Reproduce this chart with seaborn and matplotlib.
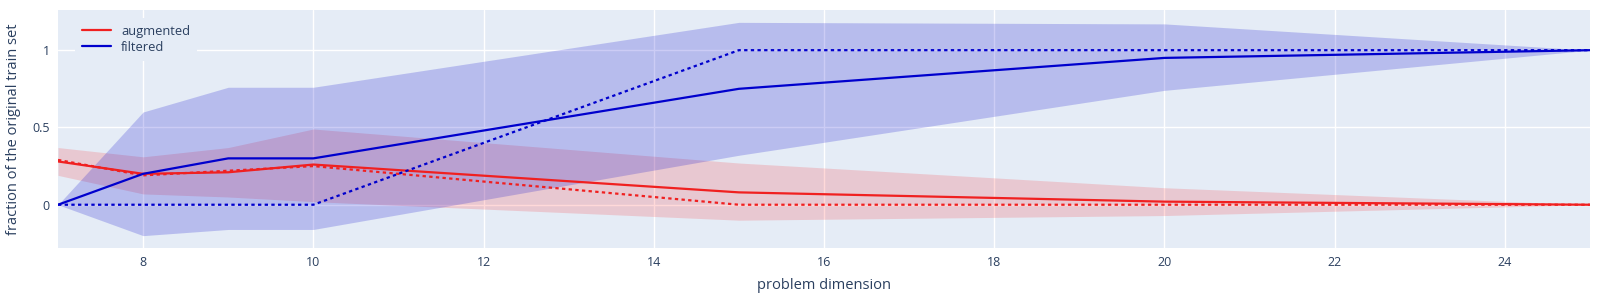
import numpy as np
import pandas as pd
import seaborn as sns
from matplotlib import pyplot as plt

# problem dimensions sampled
dims = [7, 8, 9, 10, 15, 20, 25]

# augmented: mean, median, band
aug_mean = [0.28, 0.20, 0.21, 0.26, 0.08, 0.02, 0.0]
aug_median = [0.29, 0.19, 0.22, 0.25, 0.0, 0.0, 0.0]
aug_upper = [0.37, 0.31, 0.37, 0.49, 0.27, 0.11, 0.0]
aug_lower = [0.19, 0.07, 0.05, 0.02, -0.10, -0.07, 0.0]

# filtered: mean, median, band
filt_mean = [0.0, 0.20, 0.30, 0.30, 0.75, 0.95, 1.0]
filt_median = [0.0, 0.0, 0.0, 0.0, 1.0, 1.0, 1.0]
filt_upper = [0.0, 0.60, 0.76, 0.76, 1.18, 1.17, 1.0]
filt_lower = [0.0, -0.20, -0.16, -0.16, 0.32, 0.74, 1.0]

x_ticks = [8, 10, 12, 14, 16, 18, 20, 22, 24]
y_ticks = [0, 0.5, 1]
y_tick_labels = ['0', '0.5', '1']

sns.set_style('darkgrid', {'axes.facecolor': '#E5ECF6', 'grid.color': 'white'})
plt.rcParams['font.family'] = ['Open Sans', 'DejaVu Sans']
plt.rcParams['text.color'] = '#2a3f5f'
plt.rcParams['axes.labelcolor'] = '#2a3f5f'
plt.rcParams['xtick.color'] = '#2a3f5f'
plt.rcParams['ytick.color'] = '#2a3f5f'

df = pd.DataFrame({'dim': dims,
                   'aug_mean': aug_mean, 'aug_median': aug_median,
                   'aug_upper': aug_upper, 'aug_lower': aug_lower,
                   'filt_mean': filt_mean, 'filt_median': filt_median,
                   'filt_upper': filt_upper, 'filt_lower': filt_lower})

red = '#f02020'
blue = '#0000cd'
dot = (0, (1.5, 1.5))

fig = plt.figure(figsize=(16, 3), dpi=100)
ax = fig.add_axes([0.03625, 0.1733, 0.9575, 0.7934])

## bands
ax.fill_between(df.dim, df.aug_lower, df.aug_upper, color='red', alpha=0.15, lw=0)
ax.fill_between(df.dim, df.filt_lower, df.filt_upper, color=blue, alpha=0.2, lw=0)

## lines
sns.lineplot(ax=ax, data=df, x='dim', y='aug_mean', color=red, lw=1.6,
             label='augmented', errorbar=None)
sns.lineplot(ax=ax, data=df, x='dim', y='aug_median', color=red, lw=1.6,
             linestyle=dot, errorbar=None)
sns.lineplot(ax=ax, data=df, x='dim', y='filt_mean', color=blue, lw=1.6,
             label='filtered', errorbar=None)
sns.lineplot(ax=ax, data=df, x='dim', y='filt_median', color=blue, lw=1.6,
             linestyle=dot, errorbar=None)

ax.set(xlim=(7, 25), ylim=(-0.28, 1.26))
ax.set_xticks(x_ticks)
ax.set_yticks(y_ticks)
ax.set_yticklabels(y_tick_labels)
ax.tick_params(axis='both', length=0, labelsize=9, pad=6)
ax.grid(True, color='white', lw=1)
for s in ax.spines.values():
    s.set_visible(False)

ax.set_xlabel('problem dimension', fontsize=10.5, labelpad=6)
ax.set_ylabel('fraction of the original train set', fontsize=10.5, labelpad=8)

leg = ax.legend(loc='upper left', bbox_to_anchor=(0.007, 0.995), fontsize=9.3,
                frameon=True, fancybox=False, framealpha=1, edgecolor='white',
                handlelength=2.2, borderpad=0.55, labelspacing=0.25)
leg.get_frame().set_linewidth(0)
for line in leg.get_lines():
    line.set_linewidth(1.6)

plt.savefig('out.png', dpi=100)
